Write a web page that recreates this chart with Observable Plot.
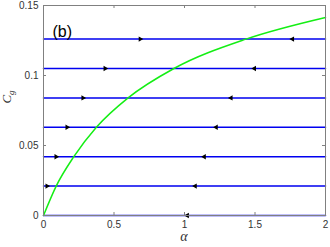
<!DOCTYPE html>
<html><head><meta charset="utf-8">
<script src="https://cdn.jsdelivr.net/npm/d3@7"></script>
<script src="https://cdn.jsdelivr.net/npm/@observablehq/plot@0.6"></script>
<style>body{margin:0;background:#fff;}</style>
</head><body><div id="chart"></div>
<script>
const xTicks = [0, 0.5, 1, 1.5, 2];
const yTicks = [0, 0.05, 0.1, 0.15];
const levels = [0, 0.021, 0.042, 0.063, 0.084, 0.105, 0.126];
const curveAlpha = [0, 0.09, 0.215, 0.375, 0.6, 0.925, 1.435, 2];
const curveCg = [0, 0.021, 0.042, 0.063, 0.084, 0.105, 0.126, 0.1415];
const rightArrowLevel = [0.021, 0.042, 0.063, 0.084, 0.105, 0.126];
const rightArrowAlpha = [0.025, 0.089, 0.167, 0.28, 0.437, 0.686];
const leftArrowLevel = [0, 0.021, 0.042, 0.063, 0.084, 0.105, 0.126];
const leftArrowAlpha = [1.02, 1.076, 1.14, 1.225, 1.33, 1.496, 1.766];

const lines = levels.flatMap(l => [{a: 0, c: l, l}, {a: 2, c: l, l}]);
const curve = curveAlpha.map((a, i) => ({a, c: curveCg[i]}));
const rArr = rightArrowAlpha.map((a, i) => ({a, c: rightArrowLevel[i]}));
const lArr = leftArrowAlpha.map((a, i) => ({a, c: leftArrowLevel[i]}));

const W = 330, H = 247;
const frameColor = "#808080";
const tx = 0.0213, ty = 0.00215;

const plot = Plot.plot({
  width: W, height: H,
  marginLeft: 43, marginRight: 5, marginTop: 5, marginBottom: 32,
  style: {fontFamily: "'Liberation Sans', Arial, sans-serif", fontSize: "10px", color: "#333", background: "#fff"},
  x: {domain: [0, 2], label: null},
  y: {domain: [0, 0.15], label: null},
  marks: [
    Plot.line(lines, {x: "a", y: "c", z: "l", stroke: "#0000f0", strokeWidth: 1.5}),
    Plot.line(curve, {x: "a", y: "c", stroke: "#14ee14", strokeWidth: 1.5, curve: "monotone-x"}),
    Plot.dot(rArr, {x: "a", y: "c", symbol: "triangle", r: 2, fill: "#000", stroke: null, rotate: 90}),
    Plot.dot(lArr, {x: "a", y: "c", symbol: "triangle", r: 2, fill: "#000", stroke: null, rotate: -90}),
    Plot.ruleX(xTicks, {x: d => d, y1: 0, y2: ty, stroke: frameColor}),
    Plot.ruleX(xTicks, {x: d => d, y1: 0.15, y2: 0.15 - ty, stroke: frameColor}),
    Plot.ruleY(yTicks, {y: d => d, x1: 0, x2: tx, stroke: frameColor}),
    Plot.ruleY(yTicks, {y: d => d, x1: 2, x2: 2 - tx, stroke: frameColor}),
    Plot.frame({stroke: frameColor}),
    Plot.axisX({ticks: xTicks, tickSize: 0, tickPadding: 5, tickFormat: d => String(d), label: null}),
    Plot.axisY({ticks: yTicks, tickSize: 0, tickPadding: 5, tickFormat: d => String(d), label: null}),
    Plot.text(["(b)"], {frameAnchor: "top-left", dx: 9, dy: 20, text: d => d, fontSize: 16, fill: "#000", textAnchor: "start"})
  ]
});
document.getElementById("chart").appendChild(plot);

const svg = d3.select(plot);
const yl = svg.append("text")
  .attr("transform", "translate(11,97) rotate(-90)")
  .attr("text-anchor", "middle")
  .attr("font-family", "'Liberation Serif', 'DejaVu Serif', serif")
  .attr("font-style", "italic").attr("font-size", 13).attr("fill", "#333");
yl.append("tspan").text("C");
yl.append("tspan").attr("font-size", 9).attr("dy", 3).text("g");
svg.append("text")
  .attr("x", 184).attr("y", 241)
  .attr("text-anchor", "middle")
  .attr("font-family", "'Liberation Serif', 'DejaVu Serif', serif")
  .attr("font-style", "italic").attr("font-size", 14).attr("fill", "#333")
  .text("α");
</script>
</body></html>
